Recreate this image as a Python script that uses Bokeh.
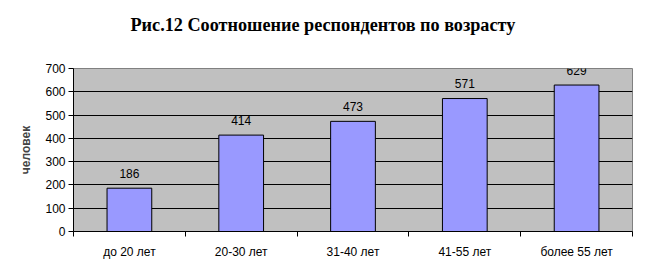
from bokeh.plotting import figure
from bokeh.models import Range1d, FixedTicker, ColumnDataSource, Title
from bokeh.core.properties import value
from bokeh.embed import file_html
from bokeh.resources import INLINE

title = "Рис.12 Соотношение респондентов по возрасту"
y_label = "человек"
categories = ["до 20 лет", "20-30 лет", "31-40 лет", "41-55 лет", "более 55 лет"]
counts = [186, 414, 473, 571, 629]
y_ticks = [0, 100, 200, 300, 400, 500, 600, 700]

xs = [i + 0.5 for i in range(len(categories))]
src = ColumnDataSource(dict(x=xs, top=counts, label=[str(c) for c in counts]))

p = figure(width=648, height=277, output_backend="svg", toolbar_location=None,
           x_range=Range1d(0, len(categories)), y_range=Range1d(0, 700),
           min_border_left=73, min_border_right=16, min_border_top=68, min_border_bottom=46)

p.background_fill_color = "#C0C0C0"
p.border_fill_color = "white"
p.outline_line_color = "#808080"
p.outline_line_width = 1

# spacer between frame and title
p.add_layout(Title(text=" ", text_font_size="10px", standoff=21), "above")

p.title.text = title
p.title.text_font = "Liberation Serif"
p.title.text_font_style = "bold"
p.title.text_font_size = "18.2px"
p.title.text_color = "black"
p.title.align = "left"
p.title.offset = 57
p.title.standoff = 0

p.vbar(x="x", top="top", width=0.4, source=src, fill_color="#9999FF",
       line_color="black", line_width=1)
p.text(x="x", y="top", text="label", source=src, text_align="center",
       text_baseline="alphabetic", y_offset=-15, text_font_size="12px",
       text_font=value("Liberation Sans"), text_color="black")

# y axis
p.yaxis.ticker = FixedTicker(ticks=y_ticks)
p.yaxis.axis_label = y_label
p.yaxis.axis_label_text_font = "Liberation Sans"
p.yaxis.axis_label_text_font_style = "bold"
p.yaxis.axis_label_text_font_size = "12px"
p.yaxis.axis_label_standoff = 9
p.yaxis.major_label_text_font = "Liberation Sans"
p.yaxis.major_label_text_font_size = "12px"
p.yaxis.major_label_text_color = "black"
p.yaxis.major_tick_out = 5
p.yaxis.major_tick_in = 0
p.yaxis.minor_tick_line_color = None
p.yaxis.major_label_standoff = 3
p.yaxis.axis_line_color = "black"

# x axis: labels at centers, tick marks at boundaries
p.xaxis.ticker = FixedTicker(ticks=xs, minor_ticks=list(range(len(categories) + 1)))
p.xaxis.major_label_overrides = {x: c for x, c in zip(xs, categories)}
p.xaxis.major_tick_out = 0
p.xaxis.major_tick_in = 0
p.xaxis.minor_tick_out = 5
p.xaxis.minor_tick_in = 0
p.xaxis.minor_tick_line_color = "black"
p.xaxis.major_label_standoff = 8
p.xaxis.major_label_text_font = "Liberation Sans"
p.xaxis.major_label_text_font_size = "12px"
p.xaxis.major_label_text_color = "black"
p.xaxis.axis_line_color = "black"

p.xgrid.grid_line_color = None
p.ygrid.ticker = FixedTicker(ticks=y_ticks[1:-1])
p.ygrid.grid_line_color = "black"
p.ygrid.grid_line_width = 1

open("out.html", "w").write(file_html(p, INLINE))
